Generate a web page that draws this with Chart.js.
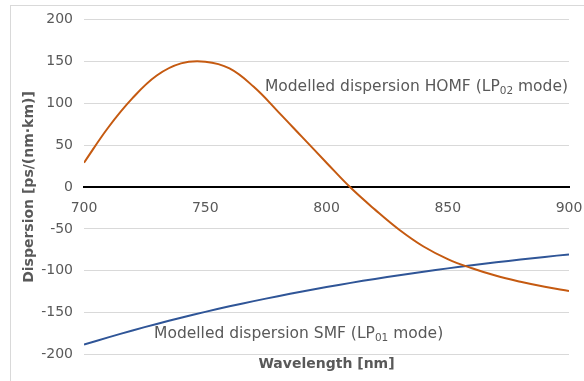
<!DOCTYPE html>
<html>
<head>
<meta charset="utf-8">
<script src="https://cdn.jsdelivr.net/npm/chart.js@4.4.1/dist/chart.umd.min.js"></script>
<style>
  html, body { margin: 0; padding: 0; background: #fff; overflow: hidden; }
  #frame { position: absolute; left: 10px; top: 5px; width: 600px; height: 400px; border: 1px solid #d9d9d9; }
  #wrap { position: absolute; left: 0; top: 0; width: 584px; height: 381px; }
</style>
</head>
<body>
<div id="frame"></div>
<div id="wrap"><canvas id="myChart"></canvas></div>
<script>
// wavelength samples [nm]
const wavelengths = [700, 710, 720, 730, 740, 750, 760, 770, 780, 790, 800,
                     810, 820, 830, 840, 850, 860, 870, 880, 890, 900];
// dispersion of HOMF LP02 mode [ps/(nm km)]
const homfValues = [29, 71, 106, 133, 147.5, 149.5, 141.5, 119.5, 90, 59.5, 29,
                    -1, -27, -51, -71, -86, -97, -106, -113, -119, -124];
// dispersion of SMF LP01 mode [ps/(nm km)]
const smfValues = [-188, -179.4, -171.2, -163.4, -156, -149, -142.4, -136.2, -130.3, -124.7, -119.4,
                   -114.4, -109.7, -105.3, -101.1, -97.1, -93.4, -89.9, -86.6, -83.4, -80.4];
const xTicks = [700, 750, 800, 850, 900];
const yTicks = [-200, -150, -100, -50, 0, 50, 100, 150, 200];

const grey = '#595959';
const fontFamily = "'DejaVu Sans', sans-serif";

// text labels next to the curves, anchored in data units
const curveLabels = [
    { x: 774.6, y: 119.5, main: 'Modelled dispersion HOMF (LP', sub: '02', tail: ' mode)' },
    { x: 728.9, y: -175.7, main: 'Modelled dispersion SMF (LP', sub: '01', tail: ' mode)' }
];

const labelPlugin = {
    id: 'curveLabels',
    afterDatasetsDraw(chart) {
        const ctx = chart.ctx;
        const xs = chart.scales.x, ys = chart.scales.y;
        ctx.save();
        ctx.fillStyle = grey;
        ctx.textBaseline = 'middle';
        ctx.textAlign = 'left';
        curveLabels.forEach(l => {
            let px = xs.getPixelForValue(l.x);
            const py = ys.getPixelForValue(l.y);
            ctx.font = '15.5px ' + fontFamily;
            ctx.fillText(l.main, px, py);
            px += ctx.measureText(l.main).width;
            ctx.font = '10.5px ' + fontFamily;
            ctx.fillText(l.sub, px, py + 4);
            px += ctx.measureText(l.sub).width;
            ctx.font = '15.5px ' + fontFamily;
            ctx.fillText(l.tail, px, py);
        });
        ctx.restore();
    }
};

const ctx = document.getElementById('myChart').getContext('2d');
const myChart = new Chart(ctx, {
    type: 'line',
    data: {
        datasets: [{
            label: 'HOMF',
            data: wavelengths.map((w, i) => ({ x: w, y: homfValues[i] })),
            borderColor: '#C55A11',
            borderWidth: 2,
            pointRadius: 0,
            tension: 0.4,
            fill: false
        }, {
            label: 'SMF',
            data: wavelengths.map((w, i) => ({ x: w, y: smfValues[i] })),
            borderColor: '#2F5597',
            borderWidth: 2,
            pointRadius: 0,
            tension: 0.4,
            fill: false
        }]
    },
    options: {
        responsive: true,
        maintainAspectRatio: false,
        animation: false,
        layout: { padding: { top: 15, right: 0, left: 10, bottom: 8.6 } },
        plugins: {
            legend: { display: false },
            tooltip: { enabled: false },
            title: {
                display: true,
                position: 'bottom',
                fullSize: false,
                text: 'Wavelength [nm]',
                color: grey,
                font: { family: fontFamily, size: 14, weight: 'bold' },
                padding: { top: 1, bottom: 0 }
            }
        },
        scales: {
            x: {
                type: 'linear',
                position: { y: 0 },
                min: 700,
                max: 900,
                afterBuildTicks: axis => { axis.ticks = xTicks.map(v => ({ value: v })); },
                afterFit: axis => { axis.paddingRight = 15; axis.paddingLeft = 0; },
                ticks: {
                    color: grey,
                    font: { family: fontFamily, size: 14 },
                    padding: 13,
                    maxRotation: 0
                },
                grid: { display: false, drawTicks: false },
                border: { display: true, color: '#000', width: 2 }
            },
            y: {
                min: -200,
                max: 200,
                afterBuildTicks: axis => { axis.ticks = yTicks.map(v => ({ value: v })); },
                afterFit: axis => { axis.width = 74; },
                ticks: {
                    color: grey,
                    font: { family: fontFamily, size: 14 },
                    padding: 11
                },
                grid: {
                    drawTicks: false,
                    color: c => c.tick && c.tick.value === 0 ? 'rgba(0,0,0,0)' : '#d9d9d9',
                    lineWidth: 1
                },
                border: { display: false },
                title: {
                    display: true,
                    text: 'Dispersion [ps/(nm·km)]',
                    color: grey,
                    font: { family: fontFamily, size: 14, weight: 'bold' },
                    padding: { top: 10.6, bottom: 0 }
                }
            }
        }
    },
    plugins: [labelPlugin]
});
</script>
</body>
</html>
